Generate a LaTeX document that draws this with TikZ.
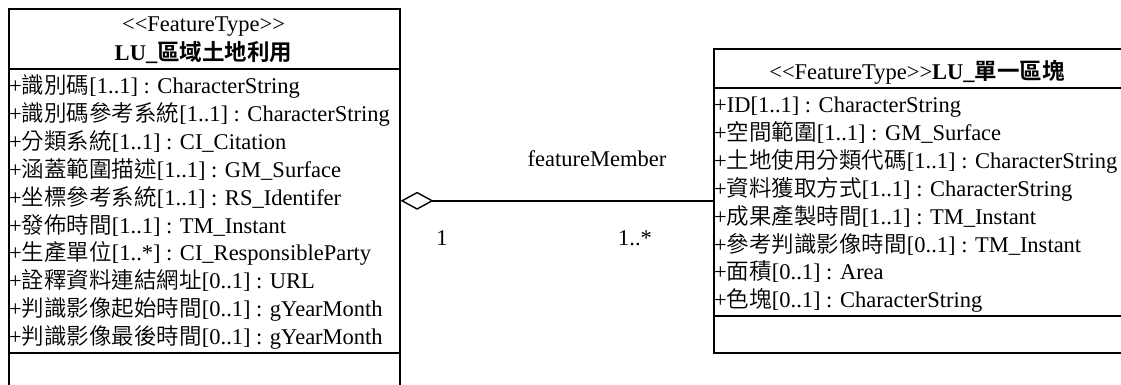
\documentclass[tikz,border=0pt]{standalone}
\usepackage{fontspec}
\setmainfont{Liberation Serif}
\newfontfamily\cjk[UprightFont={* DemiLight},BoldFont={* Bold}]{Noto Sans CJK TC}
\newcommand\zh[1]{{\cjk #1}}
\usetikzlibrary{arrows.meta}
\tikzset{
  txt/.style={inner sep=0pt, font=\fontsize{22.5}{27}\selectfont},
  attr/.style={txt, anchor=base west},
  umlbox/.style={draw, line width=1.6pt, rectangle, inner sep=0pt},
  sep/.style={line width=1.6pt},
  assoc/.style={line width=1.4pt, {Diamond[open,length=33pt,width=18pt,line width=1.4pt]}-},
}
\begin{document}
\begin{tikzpicture}[x=1pt,y=-1pt]
\useasboundingbox (0,0) rectangle (1121,385);
% left class
\node[umlbox, anchor=north west, minimum width=391pt, minimum height=420pt] (L) at (8,8) {};
\draw[sep] (8,69) -- (399,69);
\draw[sep] (8,353) -- (399,353);
\node[txt, anchor=base] (Lst) at (203.5,32) {{<}{<}FeatureType{>}{>}};
\node[txt, anchor=base] (Lname) at (203.5,61) {\bfseries LU\_\zh{區域土地利用}};
\node[attr] (L1) at (9,94) {+\zh{識別碼}[1..1] : CharacterString};
\node[attr] (L2) at (9,121.8) {+\zh{識別碼參考系統}[1..1] : CharacterString};
\node[attr] (L3) at (9,149.6) {+\zh{分類系統}[1..1] : CI\_Citation};
\node[attr] (L4) at (9,177.4) {+\zh{涵蓋範圍描述}[1..1] : GM\_Surface};
\node[attr] (L5) at (9,205.2) {+\zh{坐標參考系統}[1..1] : RS\_Identifer};
\node[attr] (L6) at (9,233) {+\zh{發佈時間}[1..1] : TM\_Instant};
\node[attr] (L7) at (9,260.8) {+\zh{生產單位}[1..*] : CI\_ResponsibleParty};
\node[attr] (L8) at (9,288.6) {+\zh{詮釋資料連結網址}[0..1] : URL};
\node[attr] (L9) at (9,316.4) {+\zh{判識影像起始時間}[0..1] : gYearMonth};
\node[attr] (L10) at (9,344.2) {+\zh{判識影像最後時間}[0..1] : gYearMonth};
% right class
\node[umlbox, anchor=north west, minimum width=430pt, minimum height=304pt] (R) at (713,48) {};
\draw[sep] (713,88) -- (1125,88);
\draw[sep] (713,316) -- (1125,316);
\node[txt, anchor=base] (Rname) at (917,80) {{<}{<}FeatureType{>}{>}\textbf{LU\_\zh{單一區塊}}};
\node[attr] (R1) at (714,113) {+ID[1..1] : CharacterString};
\node[attr] (R2) at (714,140.8) {+\zh{空間範圍}[1..1] : GM\_Surface};
\node[attr] (R3) at (714,168.6) {+\zh{土地使用分類代碼}[1..1] : CharacterString};
\node[attr] (R4) at (714,196.4) {+\zh{資料獲取方式}[1..1] : CharacterString};
\node[attr] (R5) at (714,224.2) {+\zh{成果產製時間}[1..1] : TM\_Instant};
\node[attr] (R6) at (714,252) {+\zh{參考判識影像時間}[0..1] : TM\_Instant};
\node[attr] (R7) at (714,279.8) {+\zh{面積}[0..1] : Area};
\node[attr] (R8) at (714,307.6) {+\zh{色塊}[0..1] : CharacterString};
% association
\draw[assoc] (L.east |- R.west) -- (R.west);
\node[txt] (role) at (597,159) {featureMember};
\node[txt] (m1) at (442,238) {1};
\node[txt] (m2) at (635,238) {1..*};
\end{tikzpicture}
\end{document}
